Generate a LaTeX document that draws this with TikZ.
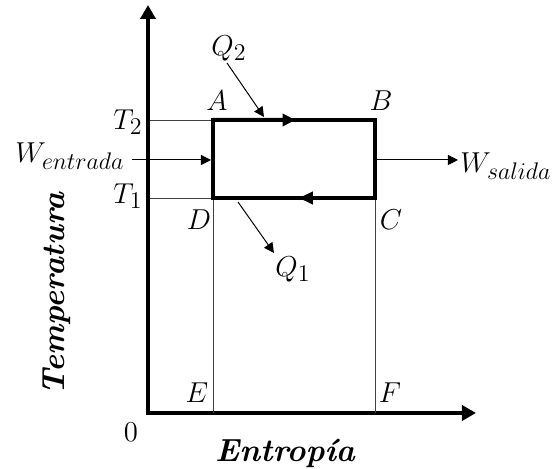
\documentclass[tikz,border=0pt]{standalone}
\usetikzlibrary{arrows.meta,calc}
\DeclareMathSizes{15}{15}{11.5}{9}

\begin{document}
\begin{tikzpicture}[x=0.5pt,y=0.5pt,font=\fontsize{15}{18}\selectfont,
    axis/.style={line width=2pt,-{Triangle[length=7pt,width=7.5pt]}},
    cycle/.style={line width=2pt,line join=miter},
    guide/.style={line width=0.4pt,draw=black!75},
    flow/.style={line width=0.5pt,-{Triangle[length=5pt,width=5pt]}},
    axlabel/.style={font=\fontsize{16}{19}\selectfont\bfseries\itshape}]
        \useasboundingbox (0,0) rectangle (559,469);
        % axes
        \coordinate (O) at (148,56);
        \coordinate (ytop) at (148,464);
        \coordinate (xend) at (476,56);
        \draw[axis] ([yshift=-1pt]O) -- (ytop);
        \draw[axis] ([xshift=-1pt]O) -- (xend);
        % corners of the cycle
        \coordinate (A) at (213,349);
        \coordinate (B) at (375,349);
        \coordinate (C) at (375,271);
        \coordinate (D) at (213,271);
        \coordinate (E) at (213,56);
        \coordinate (F) at (375,56);
        \coordinate (T2) at (150,349);
        \coordinate (T1) at (150,271);
        \draw[guide] (T2) -- (A);
        \draw[guide] (T1) -- (D);
        \draw[guide] (D) -- (E);
        \draw[guide] (C) -- (F);
        \draw[cycle] (A) -- (B) -- (C) -- (D) -- cycle;
        \draw[cycle,-{Triangle[length=6.5pt,width=6pt]}] (A) -- ($(A)!0.51!(B)$) coordinate (ABmid);
        \draw[cycle,-{Triangle[length=7pt,width=6pt]}] (C) -- ($(C)!0.47!(D)$) coordinate (CDmid);
        % labels
        \node (lT2) at (128,347) {$T_2$};
        \node (lT1) at (128,273) {$T_1$};
        \node (lA) at (217,368) {$A$};
        \node (lB) at (381,368) {$B$};
        \node (lC) at (391,249) {$C$};
        \node (lD) at (199,249) {$D$};
        \node (lE) at (197,76) {$E$};
        \node (lF) at (390,76) {$F$};
        \node (l0) at (131,37) {$0$};
        \node (Win) at (70,313) {$W_{entrada}$};
        \node (Q2) at (229,421) {$Q_2$};
        \node (Q1) at (293,200) {$Q_1$};
        \coordinate (Q2start) at (227,406);
        \coordinate (Q2end) at (264,352);
        \coordinate (Q1start) at (238,267);
        \coordinate (Q1end) at (274,216);
        \coordinate (Wintip) at (211,309);
        \coordinate (Woutstart) at (377,309);
        \coordinate (Wouttip) at (458,309);
        \node[anchor=west,inner sep=1pt] (Wout) at ([yshift=-3]Wouttip) {$W_{salida}$};
        \draw[flow] (Win.east |- Wintip) -- (Wintip);
        \draw[flow] (Woutstart) -- (Wouttip);
        \draw[flow] (Q2start) -- (Q2end);
        \draw[flow] (Q1start) -- (Q1end);
        \node[axlabel] (Sname) at (285,16) {Entropía};
        \node[axlabel,rotate=90] (Tname) at (57,175) {Temperatura};
\end{tikzpicture}
\end{document}
